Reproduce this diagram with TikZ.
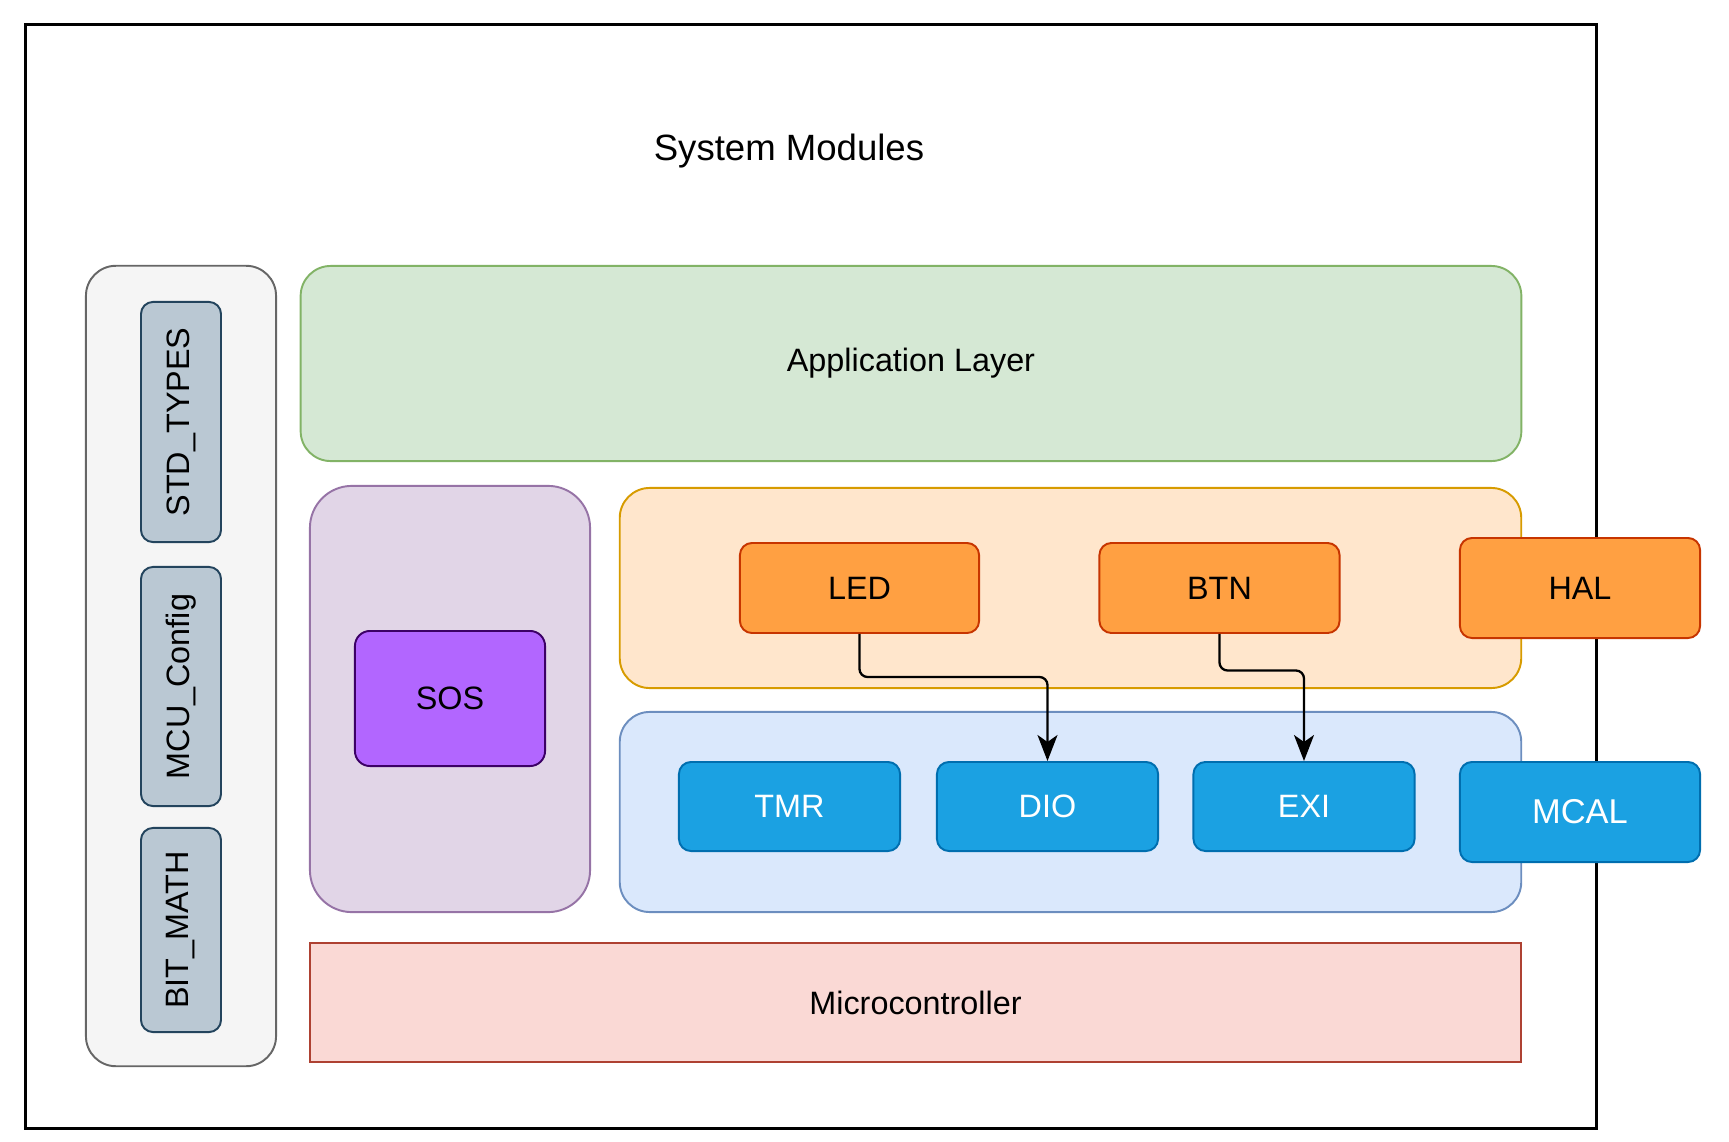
\documentclass[tikz,border=0pt]{standalone}
\usepackage{fontspec}
\setmainfont{Liberation Sans}
\usepackage{tikz}
\usetikzlibrary{arrows.meta,positioning,calc}
\definecolor{libfill}{HTML}{F5F5F5}
\definecolor{libline}{HTML}{666666}
\definecolor{stdfill}{HTML}{BAC8D3}
\definecolor{stdline}{HTML}{23445D}
\definecolor{appfill}{HTML}{D5E8D4}
\definecolor{appline}{HTML}{82B366}
\definecolor{osfill}{HTML}{E1D5E7}
\definecolor{osline}{HTML}{9673A6}
\definecolor{sosfill}{HTML}{B266FF}
\definecolor{sosline}{HTML}{3C0066}
\definecolor{halfill}{HTML}{FFE6CC}
\definecolor{halline}{HTML}{D79B00}
\definecolor{ecufill}{HTML}{FFA042}
\definecolor{eculine}{HTML}{C73500}
\definecolor{mcalfill}{HTML}{DAE8FC}
\definecolor{mcalline}{HTML}{6C8EBF}
\definecolor{drvfill}{HTML}{1BA1E2}
\definecolor{drvline}{HTML}{006EAF}
\definecolor{mcufill}{HTML}{FAD9D5}
\definecolor{mculine}{HTML}{AE4132}
\tikzset{
  layerbox/.style={
    rectangle, draw=#1line, fill=#1fill, line width=0.55pt,
    rounded corners=0.3cm, inner sep=0pt
  },
  libbox/.style={
    rectangle, draw=stdline, fill=stdfill, line width=0.55pt,
    rounded corners=0.12cm, rotate=90,
    minimum height=0.8cm, inner sep=0pt
  },
  modbox/.style={
    rectangle, draw=#1line, fill=#1fill, line width=0.55pt,
    rounded corners=0.12cm, minimum width=2.4cm, minimum height=0.9cm,
    inner sep=0pt
  },
  modbox/.default=ecu,
  drvbox/.style={
    modbox=drv, text=white, minimum width=2.21cm, minimum height=0.89cm
  },
  wire/.style={
    -{Stealth[length=0.26cm, width=0.2cm, inset=0.07cm]},
    line width=0.65pt, rounded corners=0.08cm
  },
}

\begin{document}
\begin{tikzpicture}[x=0.01cm, y=-0.01cm, font=\fontsize{9.2}{11}\selectfont]
  \useasboundingbox (0,0) rectangle (1729,1142);

  % Frame
  \node[draw, line width=0.7pt, minimum width=15.7cm, minimum height=11.03cm,
        inner sep=0pt] (frame) at (811,576.5) {};
  \node[font=\fontsize{10.4}{12}\selectfont] (title) at (789,151) {System Modules};

  % Libraries
  \node[layerbox=lib, minimum width=1.9cm, minimum height=8cm] (libs) at (181,666) {};
  \node[libbox, minimum width=2.4cm] (std) at (181,422) {STD\_TYPES};
  \node[libbox, minimum width=2.39cm] (cfg) at (181,686.5) {MCU\_Config};
  \node[libbox, minimum width=2.04cm] (bit) at (181,930) {BIT\_MATH};

  % Application
  \node[layerbox=app, minimum width=12.2cm, minimum height=1.95cm] (app) at (911,363.5) {Application Layer};

  % OS
  \node[layerbox=os, rounded corners=0.42cm, minimum width=2.8cm, minimum height=4.26cm] (os) at (450,699) {};
  \node[modbox=sos, rounded corners=0.15cm, minimum width=1.9cm, minimum height=1.35cm] (sos) at (450,698.5) {SOS};

  % HAL
  \node[layerbox=hal, minimum width=9.01cm, minimum height=2cm] (hallayer) at (1070.5,588) {};
  \node[modbox, minimum width=2.39cm] (led) at (859.5,588) {LED};
  \node[modbox] (btn) at (1219.5,588) {BTN};
  \node[modbox, minimum height=1cm] (hal) at (1580,588) {HAL};

  % MCAL
  \node[layerbox=mcal, minimum width=9.01cm, minimum height=2cm] (mcallayer) at (1070.5,812) {};
  \node[drvbox] (tmr) at (789.5,806.5) {TMR};
  \node[drvbox] (dio) at (1047.5,806.5) {DIO};
  \node[drvbox] (exi) at (1304,806.5) {EXI};
  \node[drvbox, minimum width=2.4cm, minimum height=1cm, font=\fontsize{9.8}{11}\selectfont] (mcal) at (1580,812) {MCAL};

  % Microcontroller
  \node[layerbox=mcu, rounded corners=0pt, minimum width=12.11cm, minimum height=1.19cm] (mcu) at (915.5,1002.5) {Microcontroller};

  \foreach \a/\b/\d in {led/dio/43, btn/exi/36.5} {
    \draw[wire] (\a.south) -- ++(0,\d) -| (\b.north);
  }
\end{tikzpicture}
\end{document}
